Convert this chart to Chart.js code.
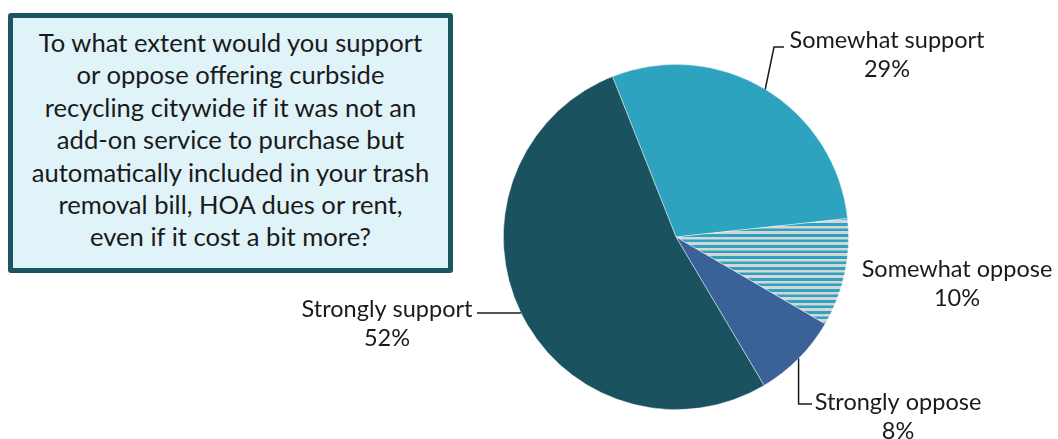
<!DOCTYPE html>
<html lang="en">
<head>
    <meta charset="UTF-8">
    <title>Curbside Recycling Support</title>
    <script src="https://cdn.jsdelivr.net/npm/chart.js"></script>
    <style>
        body {
            margin: 0;
            background-color: #ffffff;
            font-family: Lato, 'Open Sans', sans-serif;
        }
        .wrap {
            position: relative;
            width: 1058px;
            height: 439px;
        }
        .question {
            position: absolute;
            left: 8px;
            top: 13px;
            width: 445px;
            height: 260px;
            box-sizing: border-box;
            border: 5px solid #1a5560;
            border-radius: 3px;
            background-color: #dff3f8;
            color: #1a1a1a;
            font-size: 25.6px;
            line-height: 32.4px;
            text-align: center;
            white-space: nowrap;
            padding-top: 8px;
        }
    </style>
</head>
<body>
    <div class="wrap">
        <canvas id="pieChart" width="1058" height="439"></canvas>
        <div class="question">
            To what extent would you support<br>
            or oppose offering curbside<br>
            recycling citywide if it was not an<br>
            add-on service to purchase but<br>
            automatically included in your trash<br>
            removal bill, HOA dues or rent,<br>
            even if it cost a bit more?
        </div>
    </div>

    <script>
        const categories = ['Somewhat support', 'Somewhat oppose', 'Strongly oppose', 'Strongly support'];
        const percents = [29, 10, 8, 52];

        // where each label sits and how its leader line bends
        const labelLayout = [
            { cx: 887, y: 48, leader: (p) => [[774, 47], [784, 47]] },
            { cx: 957, y: 277, leader: null },
            { cx: 898, y: 410, leader: (p) => [[p.x, 404], [812, 404]] },
            { cx: 387, y: 317, leader: (p) => [[477, p.y]] }
        ];

        // horizontal stripes for the "Somewhat oppose" slice
        function stripePattern(ctx) {
            const c = document.createElement('canvas');
            c.width = 11;
            c.height = 11;
            const g = c.getContext('2d');
            g.fillStyle = '#d6d6d6';
            g.fillRect(0, 0, 11, 11);
            g.fillStyle = '#2ea3bf';
            g.fillRect(0, 3, 11, 3);
            g.fillRect(0, 8.5, 11, 2.5);
            return ctx.createPattern(c, 'repeat');
        }

        const ctx = document.getElementById('pieChart').getContext('2d');

        const sliceColors = ['#2ea3bf', stripePattern(ctx), '#3a6298', '#1a5260'];

        const labelPlugin = {
            id: 'sliceLabels',
            afterDraw(chart) {
                const c = chart.ctx;
                const arcs = chart.getDatasetMeta(0).data;
                c.save();
                c.fillStyle = '#1a1a1a';
                c.strokeStyle = '#1a1a1a';
                c.lineWidth = 1.5;
                c.font = '23.5px Lato';
                c.textAlign = 'center';
                c.textBaseline = 'alphabetic';
                arcs.forEach((arc, i) => {
                    const { x, y, startAngle, endAngle, outerRadius } = arc.getProps(['x', 'y', 'startAngle', 'endAngle', 'outerRadius'], true);
                    const mid = (startAngle + endAngle) / 2;
                    const edge = { x: x + Math.cos(mid) * outerRadius, y: y + Math.sin(mid) * outerRadius };
                    const lay = labelLayout[i];
                    if (lay.leader) {
                        c.beginPath();
                        c.moveTo(edge.x, edge.y);
                        lay.leader(edge).forEach(pt => c.lineTo(pt[0], pt[1]));
                        c.stroke();
                    }
                    c.fillText(categories[i], lay.cx, lay.y);
                    c.fillText(percents[i] + '%', lay.cx, lay.y + 29);
                });
                c.restore();
            }
        };

        new Chart(ctx, {
            type: 'pie',
            data: {
                labels: categories,
                datasets: [{
                    data: percents,
                    backgroundColor: sliceColors,
                    borderColor: 'rgba(255,255,255,0.6)',
                    borderWidth: 0.75
                }]
            },
            options: {
                responsive: false,
                animation: false,
                rotation: -21.6,
                layout: {
                    padding: { left: 503, right: 209, top: 64, bottom: 29 }
                },
                plugins: {
                    legend: { display: false },
                    tooltip: { enabled: false }
                }
            },
            plugins: [labelPlugin]
        });
    </script>
</body>
</html>
